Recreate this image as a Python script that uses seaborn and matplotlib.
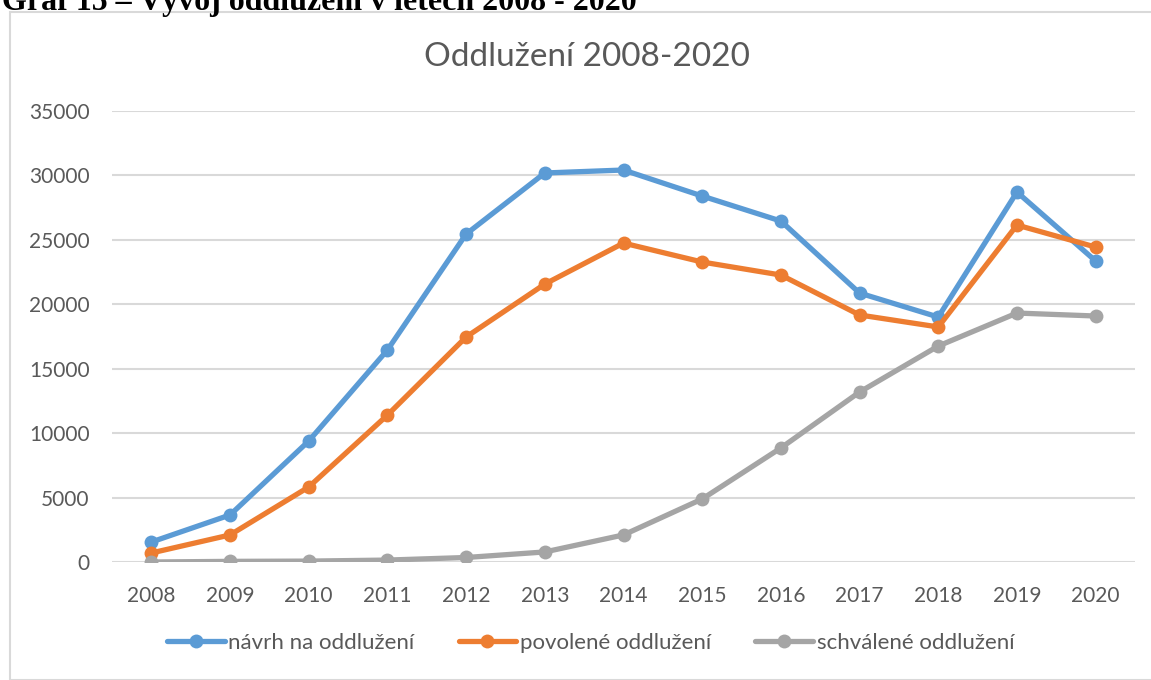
import pandas as pd
import matplotlib.pyplot as plt
import seaborn as sns
from matplotlib.patches import Rectangle

# Data
years = [str(y) for y in range(2008, 2021)]
navrh = [1550, 3650, 9390, 16450, 25450, 30190, 30420, 28400, 26460, 20870, 19010, 28710, 23360]
povolene = [700, 2100, 5820, 11400, 17460, 21570, 24750, 23280, 22270, 19170, 18240, 26150, 24440]
schvalene = [0, 50, 70, 150, 350, 780, 2100, 4890, 8850, 13190, 16760, 19320, 19090]
series_names = ['návrh na oddlužení', 'povolené oddlužení', 'schválené oddlužení']

df = pd.DataFrame({
    'rok': years * 3,
    'pocet': navrh + povolene + schvalene,
    'serie': [series_names[0]] * 13 + [series_names[1]] * 13 + [series_names[2]] * 13,
})

sns.set_style('white')
plt.rcParams['font.family'] = ['Lato', 'DejaVu Sans']

W, H = 1151, 680
fig = plt.figure(figsize=(W / 100, H / 100), dpi=100)
ax = fig.add_axes([112 / W, 1 - 562 / H, (1135 - 112) / W, (562 - 111) / H])

palette = {series_names[0]: '#5B9BD5', series_names[1]: '#ED7D31', series_names[2]: '#A5A5A5'}
sns.lineplot(data=df, x='rok', y='pocet', hue='serie', palette=palette, sort=False,
             marker='o', markersize=10, markeredgewidth=0, linewidth=3.8, ax=ax)

ax.set_xlim(-0.5, 12.5)
ax.set_ylim(0, 35000)
ax.set_yticks(range(0, 35001, 5000))
ax.yaxis.grid(True, color='#D9D9D9', linewidth=1.5)
ax.set_axisbelow(True)
for s in ax.spines.values():
    s.set_visible(False)
ax.tick_params(axis='both', length=0, labelsize=15, colors='#595959')
ax.tick_params(axis='y', pad=16)
ax.tick_params(axis='x', pad=17)
ax.set_xlabel('')
ax.set_ylabel('')

fig.text(587 / W, 1 - 57 / H, 'Oddlužení 2008-2020', ha='center', va='center',
         fontsize=24, color='#595959')

# caption above the chart frame, cut off by the top edge as in the source
fig.text(2 / W, 1 - 10 / H, 'Graf 15 – Vývoj oddlužení v letech 2008 - 2020', ha='left',
         va='baseline', fontsize=23, fontweight='bold', family='Liberation Serif', color='black')

# chart frame
fig.add_artist(Rectangle((10 / W, 0), 1.2, 1 - 12 / H, transform=fig.transFigure,
                         fill=False, edgecolor='#D9D9D9', linewidth=1.5))

handles, labels = ax.get_legend_handles_labels()
ax.legend_.remove()
fig.legend(handles, labels, loc='center', bbox_to_anchor=(0.513, 1 - 643 / H), ncol=3,
           frameon=False, fontsize=16, handlelength=2.6, columnspacing=2.0,
           handletextpad=0.15, labelcolor='#595959')

fig.savefig('out.png', dpi=100)
